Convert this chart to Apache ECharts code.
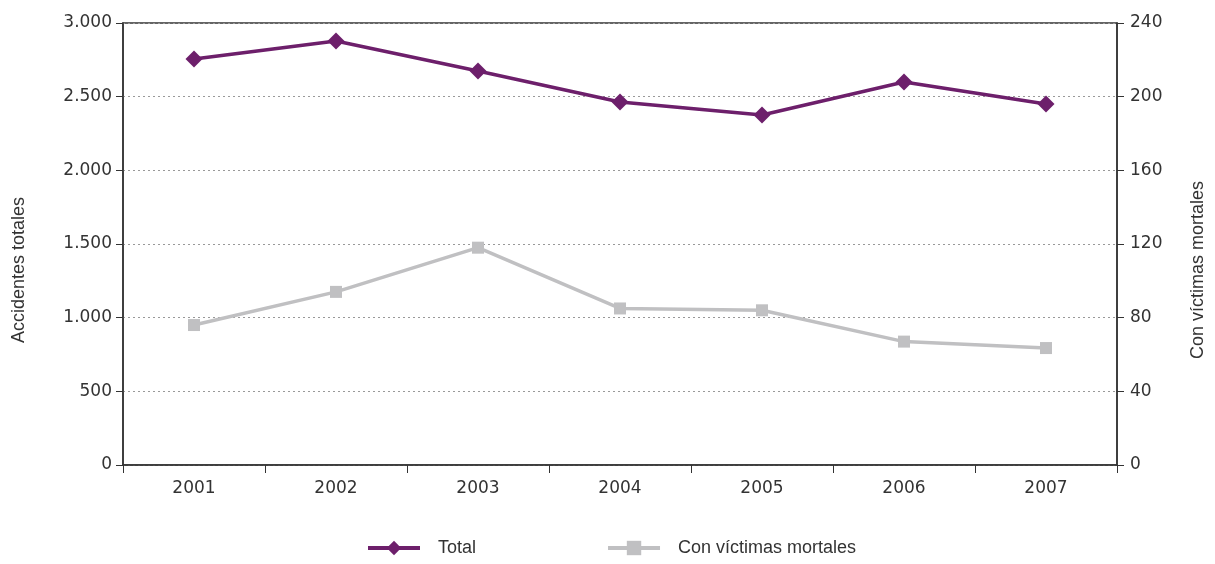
<!DOCTYPE html>
<html><head><meta charset="utf-8">
<script src="https://cdn.jsdelivr.net/npm/echarts@6/dist/echarts.min.js"></script>
<style>html,body{margin:0;padding:0;background:#fff}#c{width:1215px;height:564px}</style>
</head><body><div id="c"></div>
<script>
const years = ['2001','2002','2003','2004','2005','2006','2007'];
const totalValues = [2756, 2878, 2674, 2464, 2376, 2600, 2450];
const fatalValues = [76, 94, 118, 85, 84, 67, 63.5];
const leftTicks = [0, 500, 1000, 1500, 2000, 2500, 3000];
const rightTicks = [0, 40, 80, 120, 160, 200, 240];

const textFont = 'Liberation Sans, Arial, sans-serif';
const numFont = 'DejaVu Sans, sans-serif';
const txtColor = '#333';
const chart = echarts.init(document.getElementById('c'));
chart.setOption({
  animation: false,
  grid: {left: 123, right: 98, top: 23, bottom: 99, show: true, borderColor: '#333', borderWidth: 1.5},
  legend: {
    top: 539, left: 366, padding: 0, itemGap: 130, itemWidth: 52, itemHeight: 18,
    textStyle: {fontFamily: textFont, fontSize: 18, color: txtColor, padding: [0,0,0,13]},
    data: [
      {name: 'Total', lineStyle: {width: 4}},
      {name: 'Con víctimas mortales', lineStyle: {width: 4}}
    ]
  },
  xAxis: {
    type: 'category', data: years, boundaryGap: true,
    axisLine: {lineStyle: {color: '#333', width: 1.5}},
    axisTick: {show: true, length: 8, lineStyle: {color: '#333'}},
    axisLabel: {fontFamily: numFont, fontSize: 17, color: txtColor, margin: 15}
  },
  yAxis: [{
    type: 'value', min: 0, max: 3000, interval: 500, position: 'left',
    name: 'Accidentes totales', nameLocation: 'middle', nameGap: 95, nameRotate: 90,
    nameTextStyle: {fontFamily: textFont, fontSize: 18, color: txtColor, padding: [0, 52, 0, 0]},
    axisLine: {show: true, lineStyle: {color: '#333', width: 1.5}},
    axisTick: {show: true, length: 7, lineStyle: {color: '#333'}},
    axisLabel: {fontFamily: numFont, fontSize: 17, color: txtColor, margin: 11,
      formatter: v => v >= 1000 ? String(v).replace(/(\d)(\d{3})$/, '$1.$2') : String(v)},
    splitLine: {show: true, lineStyle: {color: '#999', type: [2,3], width: 1}}
  }, {
    type: 'value', min: 0, max: 240, interval: 40, position: 'right',
    name: 'Con víctimas mortales', nameLocation: 'middle', nameGap: 72, nameRotate: 90,
    nameTextStyle: {fontFamily: textFont, fontSize: 18, color: txtColor, padding: [0, 52, 0, 0]},
    axisLine: {show: true, lineStyle: {color: '#333', width: 1.5}},
    axisTick: {show: true, length: 7, lineStyle: {color: '#333'}},
    axisLabel: {fontFamily: numFont, fontSize: 17, color: txtColor, margin: 13},
    splitLine: {show: false}
  }],
  series: [{
    name: 'Total', type: 'line', yAxisIndex: 0, data: totalValues,
    symbol: 'diamond', symbolSize: 17,
    lineStyle: {color: '#6d1f6b', width: 3.5},
    itemStyle: {color: '#6d1f6b'}
  }, {
    name: 'Con víctimas mortales', type: 'line', yAxisIndex: 1, data: fatalValues,
    symbol: 'rect', symbolSize: 12,
    lineStyle: {color: '#c0c0c2', width: 3.5},
    itemStyle: {color: '#c0c0c2'}
  }]
});
</script></body></html>
